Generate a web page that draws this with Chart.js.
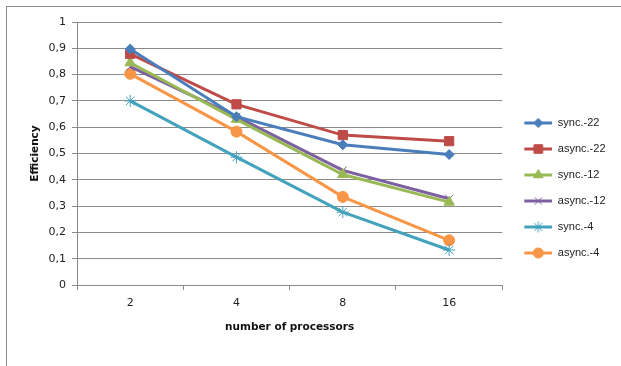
<!DOCTYPE html>
<html>
<head>
<meta charset="utf-8">
<script src="https://cdn.jsdelivr.net/npm/chart.js@4/dist/chart.umd.min.js"></script>
<style>
  html, body { margin: 0; padding: 0; background: #fff; }
  #wrap { position: relative; width: 621px; height: 366px; }
  #frame { position: absolute; left: 6px; top: 6px; right: 0; bottom: 0;
           border-top: 1px solid #8a8a8a; border-left: 1px solid #8a8a8a; }
  canvas { position: absolute; left: 0; top: 0; }
</style>
</head>
<body>
<div id="wrap">
  <div id="frame"></div>
  <canvas id="chart" width="621" height="366"></canvas>
</div>
<script>
// data
const processors = ['2', '4', '8', '16'];
const seriesNames = ['sync.-22', 'async.-22', 'sync.-12', 'async.-12', 'sync.-4', 'async.-4'];
const sync22 = [0.897, 0.64, 0.533, 0.496];
const async22 = [0.879, 0.687, 0.57, 0.547];
const sync12 = [0.845, 0.63, 0.42, 0.315];
const async12 = [0.83, 0.64, 0.436, 0.328];
const sync4 = [0.70, 0.486, 0.277, 0.133];
const async4 = [0.803, 0.583, 0.335, 0.17];
const yTicks = [0, 0.1, 0.2, 0.3, 0.4, 0.5, 0.6, 0.7, 0.8, 0.9, 1];

const colors = ['#4A7EBB', '#BE4B48', '#98B954', '#7D60A0', '#43A2BC', '#F79646'];
const markers = ['rectRot', 'rect', 'triangle', 'crossRot', 'star', 'circle'];
const markerSizes = [5, 6.5, 6, 5.5, 6, 5.5];
const allValues = [sync22, async22, sync12, async12, sync4, async4];

const tickFont = { family: 'DejaVu Sans', size: 11 };
const titleFont = { family: 'DejaVu Sans', size: 10.5, weight: 'bold' };
const legendFont = { family: 'Liberation Sans', size: 11 };

// small line + marker images for the legend
function legendIcon(i) {
    const c = document.createElement('canvas');
    c.width = 35;
    c.height = 14;
    const ctx = c.getContext('2d');
    ctx.strokeStyle = colors[i];
    ctx.lineWidth = 3;
    ctx.beginPath();
    ctx.moveTo(7, 7);
    ctx.lineTo(35, 7);
    ctx.stroke();
    ctx.fillStyle = colors[i];
    ctx.lineWidth = 1;
    Chart.helpers.drawPoint(ctx, { pointStyle: markers[i], radius: markerSizes[i] - 0.5, borderWidth: 1, rotation: 0 }, 21, 7);
    if (markers[i] !== 'crossRot' && markers[i] !== 'star') ctx.fill();
    return c;
}
const icons = seriesNames.map((n, i) => legendIcon(i));

const datasets = seriesNames.map((name, i) => ({
    label: name,
    data: allValues[i],
    borderColor: colors[i],
    backgroundColor: colors[i],
    borderWidth: 3,
    pointStyle: markers[i],
    pointRadius: markerSizes[i],
    pointBorderWidth: 1,
    pointHoverRadius: markerSizes[i],
    tension: 0,
    order: i
}));

new Chart(document.getElementById('chart'), {
    type: 'line',
    data: { labels: processors, datasets: datasets },
    options: {
        responsive: false,
        animation: false,
        layout: { padding: { left: 0, top: 22, right: 5.5, bottom: 12 } },
        plugins: {
            tooltip: { enabled: false },
            legend: {
                position: 'right',
                labels: {
                    usePointStyle: true,
                    pointStyleWidth: 35,
                    padding: 15,
                    color: '#222',
                    font: legendFont,
                    generateLabels: (chart) => {
                        const items = Chart.defaults.plugins.legend.labels.generateLabels(chart);
                        items.forEach((it, i) => { it.pointStyle = icons[i]; });
                        return items;
                    }
                }
            }
        },
        scales: {
            x: {
                offset: true,
                afterFit: (s) => { s.height = 69; },
                grid: { display: true, offset: true, drawOnChartArea: false, drawTicks: true, tickLength: 5, color: '#8a8a8a' },
                border: { display: true, color: '#8a8a8a' },
                ticks: { color: '#222', padding: 7, font: tickFont },
                title: { display: true, text: 'number of processors', color: '#111',
                         font: titleFont, padding: { bottom: 20 } }
            },
            y: {
                min: 0,
                max: 1,
                afterFit: (s) => { s.width = 77; },
                afterBuildTicks: (s) => { s.ticks = yTicks.map(v => ({ value: v })); },
                grid: { color: '#8a8a8a', tickLength: 5, lineWidth: 1 },
                border: { display: true, color: '#8a8a8a' },
                ticks: {
                    color: '#222',
                    padding: 6,
                    font: tickFont,
                    callback: (v) => (v === 0 || v === 1) ? String(v) : v.toFixed(1).replace('.', ',')
                },
                title: { display: true, text: 'Efficiency', color: '#111',
                         font: titleFont, padding: { top: 29 } }
            }
        }
    }
});
</script>
</body>
</html>
